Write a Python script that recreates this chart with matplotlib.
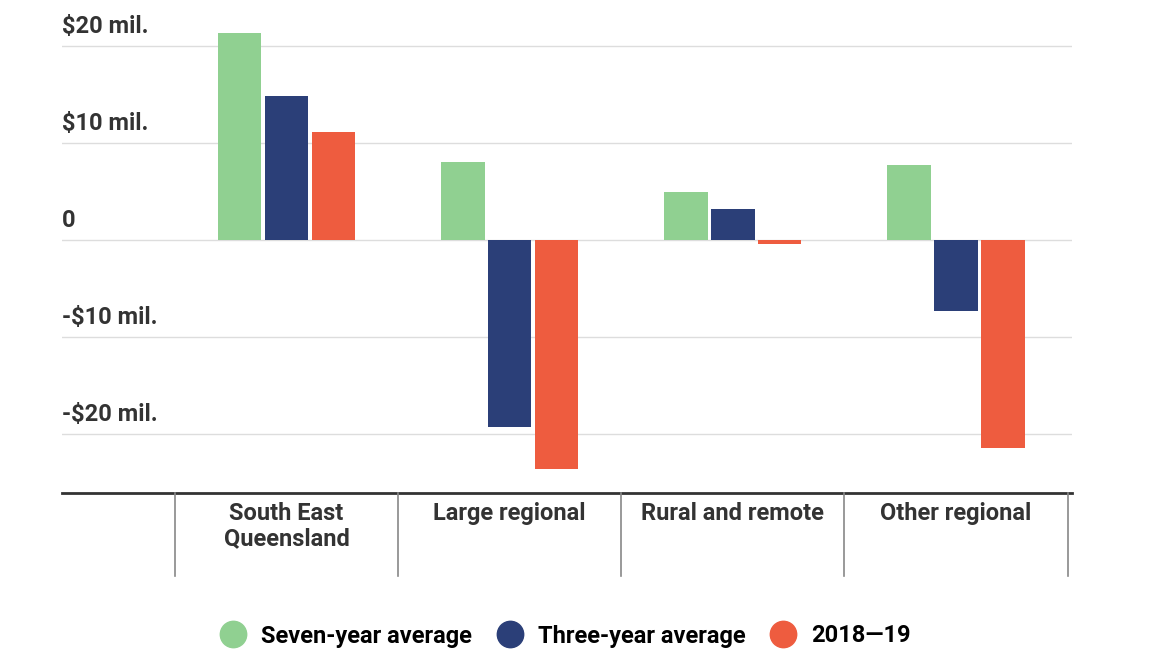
import matplotlib
matplotlib.use("Agg")
import matplotlib.pyplot as plt
from matplotlib.lines import Line2D

categories = ["South East\nQueensland", "Large regional", "Rural and remote", "Other regional"]
series = ["Seven-year average", "Three-year average", "2018—19"]
seven = [21.3, 8.0, 4.9, 7.7]
three = [14.9, -19.3, 3.2, -7.3]
latest = [11.1, -23.6, -0.4, -21.5]
yticks = [20, 10, 0, -10, -20]
ylabels = ["$20 mil.", "$10 mil.", "0", "-$10 mil.", "-$20 mil."]
colors = ["#90d091", "#2b3f78", "#ee5c3f"]

plt.rcParams['font.family'] = ['Roboto', 'DejaVu Sans']
fig = plt.figure(figsize=(11.51, 6.72), dpi=100)
ymin, ymax = -26.1, 23
ax = fig.add_axes([62/1151, 1-493/672, (1072-62)/1151, (493-17)/672])
ax.set_xlim(-1.006, 3.52)
ax.set_ylim(ymin, ymax)
for s in ax.spines.values():
    s.set_visible(False)
ax.set_xticks([]); ax.set_yticks([])
for t, l in zip(yticks, ylabels):
    ax.axhline(t, color="#dddddd", lw=1, zorder=0)
    ax.text(-1.006, t + 0.8, l, fontsize=17, fontweight="bold", color="#333333",
            va="bottom", ha="left", fontstretch="condensed")
x = list(range(len(categories)))
for off, vals, c in zip([-0.21, 0, 0.21], [seven, three, latest], colors):
    ax.bar([i + off for i in x], vals, width=0.195, color=c, zorder=2)
ax.axhline(ymin, color="#333333", lw=2, clip_on=False)
for b in [-0.5, 0.5, 1.5, 2.5, 3.5]:
    ax.plot([b, b], [ymin, ymin - 8.6], color="#888888", lw=1.2, clip_on=False)
for i, c in enumerate(categories):
    ax.text(i, ymin - 0.9, c, ha="center", va="top", fontsize=17, fontweight="bold",
            color="#333333", linespacing=1.15)
handles = [Line2D([], [], marker="o", ls="", markersize=19, color=c) for c in colors]
fig.legend(handles, series, loc="center", bbox_to_anchor=(560/1151, 1-636/672), ncol=3,
           frameon=False, handletextpad=0.2, columnspacing=0.6,
           prop={'weight': 'bold', 'size': 17})
fig.savefig("out.png", dpi=100)
